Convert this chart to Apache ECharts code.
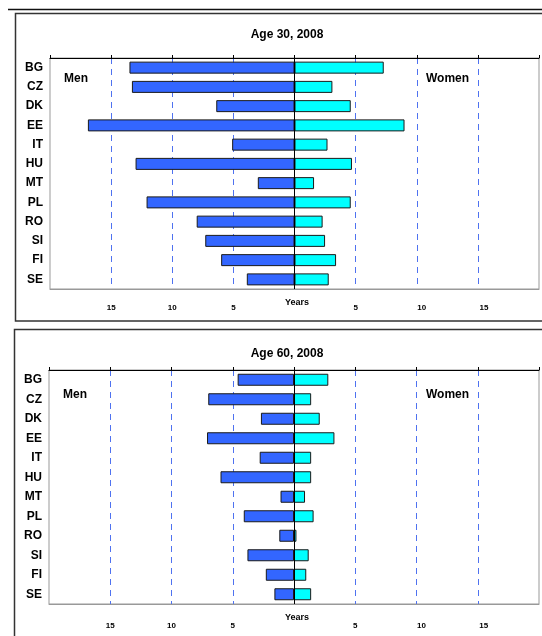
<!DOCTYPE html>
<html><head><meta charset="utf-8">
<script src="https://cdn.jsdelivr.net/npm/echarts@6/dist/echarts.min.js"></script>
<style>html,body{margin:0;padding:0;background:#fff}#c{width:542px;height:636px}</style>
</head><body><div id="c"></div>
<script>
const categories = ['BG','CZ','DK','EE','IT','HU','MT','PL','RO','SI','FI','SE'];
const men30   = [13.5, 13.3, 6.4, 16.9, 5.1, 13.0, 3.0, 12.1, 8.0, 7.3, 6.0, 3.9];
const women30 = [7.3, 3.1, 4.6, 9.0, 2.7, 4.7, 1.6, 4.6, 2.3, 2.5, 3.4, 2.8];
const men60   = [4.6, 7.0, 2.7, 7.1, 2.8, 6.0, 1.1, 4.1, 1.2, 3.8, 2.3, 1.6];
const women60 = [2.8, 1.4, 2.1, 3.3, 1.4, 1.4, 0.9, 1.6, 0.2, 1.2, 1.0, 1.4];
const titles = ['Age 30, 2008', 'Age 60, 2008'];
const tickLabels = [15, 10, 5]; // shown on both sides
const axisName = 'Years';

const FONT = 'Arial, "Liberation Sans", sans-serif';
const chart = echarts.init(document.getElementById('c'), null, {renderer:'canvas'});

const grids = [
  {left: 50, top: 58, width: 491, height: 231, show: true, borderColor: '#999', borderWidth: 1, backgroundColor: '#fff'},
  {left: 49, top: 370, width: 492, height: 234, show: true, borderColor: '#999', borderWidth: 1, backgroundColor: '#fff'}
];

const lblStyle = {fontSize: 8, fontWeight: 'bold', color: '#000', fontFamily: FONT};
function bottomAxis(gi, margin) {
  return {
    type: 'value', gridIndex: gi, min: -20, max: 20, interval: 5, position: 'bottom',
    axisLine: {show: true, onZero: false, lineStyle: {color: '#999', width: 1}},
    axisTick: {show: false},
    axisLabel: Object.assign({}, lblStyle, {
      margin: margin,
      formatter: v => {
        if (tickLabels.indexOf(Math.abs(v)) < 0) return '';
        if (v === 10) return '{r10|10}';
        if (v === 15) return '{r15|15}';
        return String(Math.abs(v));
      },
      rich: {
        r10: Object.assign({}, lblStyle, {padding: [0, 0, 0, 10]}),
        r15: Object.assign({}, lblStyle, {padding: [0, 0, 0, 12]})
      }
    }),
    splitLine: {show: true, showMinLine: false, showMaxLine: false,
      lineStyle: {color: '#4f72f0', type: [6, 5], width: 1}}
  };
}
function topAxis(gi) {
  return {
    type: 'value', gridIndex: gi, min: -20, max: 20, interval: 5, position: 'top',
    axisLine: {show: true, onZero: false, lineStyle: {color: '#000', width: 1}},
    axisTick: {show: true, inside: false, length: 3, lineStyle: {color: '#000'}},
    axisLabel: {show: false}, splitLine: {show: false}
  };
}
function catAxis(gi) {
  return {
    type: 'category', gridIndex: gi, data: categories, inverse: true,
    axisLine: {show: true, lineStyle: {color: '#999'}},
    axisTick: {show: false},
    axisLabel: {fontSize: 12, fontWeight: 'bold', color: '#000', fontFamily: FONT, margin: 7}
  };
}
function barSeries(gi, xi, data, color, withZero) {
  const s = {
    type: 'bar', xAxisIndex: xi, yAxisIndex: gi, data: data,
    barWidth: 12, barGap: '-100%',
    itemStyle: {color: color, borderColor: '#1a1a1a', borderWidth: 1},
    emphasis: {disabled: true}, z: 3
  };
  if (withZero) {
    s.markLine = {silent: true, symbol: 'none', label: {show: false},
      lineStyle: {color: '#000', type: 'solid', width: 1}, z: 10,
      data: [{xAxis: 0}]};
  }
  return s;
}

const option = {
  backgroundColor: '#fff',
  animation: false,
  title: [
    {text: titles[0], left: 282, top: 24, textAlign: 'center',
     textStyle: {fontSize: 12, fontWeight: 'bold', color: '#000', fontFamily: FONT}},
    {text: titles[1], left: 282, top: 343, textAlign: 'center',
     textStyle: {fontSize: 12, fontWeight: 'bold', color: '#000', fontFamily: FONT}}
  ],
  grid: grids,
  xAxis: [bottomAxis(0, 15), topAxis(0), bottomAxis(1, 18), topAxis(1)],
  yAxis: [catAxis(0), catAxis(1)],
  series: [
    barSeries(0, 0, men30.map(v => -v), '#3366ff', false),
    barSeries(0, 0, women30, '#00ffff', true),
    barSeries(1, 2, men60.map(v => -v), '#3366ff', false),
    barSeries(1, 2, women60, '#00ffff', true)
  ],
  graphic: [
    {type: 'line', shape: {x1: 8, y1: 9.5, x2: 542, y2: 9.5}, style: {stroke: '#111', lineWidth: 1.5}, z: 100},
    {type: 'rect', shape: {x: 15.5, y: 13.5, width: 600, height: 307.5}, style: {fill: 'none', stroke: '#333', lineWidth: 1.5}, z: 100},
    {type: 'rect', shape: {x: 14.5, y: 329.5, width: 600, height: 400}, style: {fill: 'none', stroke: '#333', lineWidth: 1.5}, z: 100},
    {type: 'text', left: 64, top: 73, style: {text: 'Men', font: 'bold 12px ' + FONT, fill: '#000'}, z: 100},
    {type: 'text', left: 426, top: 73, style: {text: 'Women', font: 'bold 12px ' + FONT, fill: '#000'}, z: 100},
    {type: 'text', left: 63, top: 389, style: {text: 'Men', font: 'bold 12px ' + FONT, fill: '#000'}, z: 100},
    {type: 'text', left: 426, top: 389, style: {text: 'Women', font: 'bold 12px ' + FONT, fill: '#000'}, z: 100},
    {type: 'text', x: 297, y: 303, style: {text: axisName, font: 'bold 9px ' + FONT, fill: '#000', align: 'center', verticalAlign: 'middle'}, z: 100},
    {type: 'text', x: 297, y: 618, style: {text: axisName, font: 'bold 9px ' + FONT, fill: '#000', align: 'center', verticalAlign: 'middle'}, z: 100}
  ]
};
chart.setOption(option);
</script>
</body></html>
